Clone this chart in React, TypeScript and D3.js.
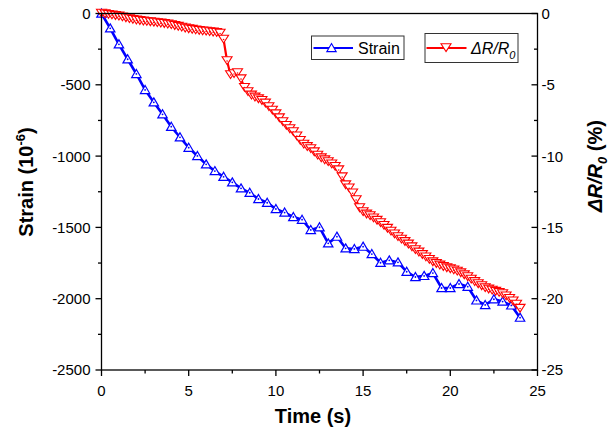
import React, { useRef, useEffect } from 'react';
import * as d3 from 'd3';

// Strain (10^-6), sampled every 0.5 s
const strainTime = d3.range(0, 24.01, 0.5);
const strainValues = [
  0, -104, -216, -321, -424, -536, -623, -707, -794, -868,
  -941, -999, -1058, -1105, -1145, -1184, -1226, -1257, -1301, -1327,
  -1371, -1396, -1427, -1446, -1518, -1499, -1612, -1565, -1647, -1651,
  -1635, -1687, -1748, -1731, -1745, -1811, -1848, -1840, -1820, -1925,
  -1925, -1897, -1916, -2012, -2044, -2004, -2020, -2047, -2133,
];

// dR/R0 (%), sampled every 0.2 s
const resTime = d3.range(0, 24.01, 0.2);
const resValues = [
  0, -0.04, -0.08, -0.12, -0.16, -0.2, -0.26, -0.32, -0.38, -0.43,
  -0.48, -0.51, -0.55, -0.57, -0.6, -0.63, -0.66, -0.69, -0.72, -0.76,
  -0.8, -0.86, -0.92, -0.98, -1.04, -1.09, -1.13, -1.17, -1.21, -1.24,
  -1.26, -1.29, -1.32, -1.35, -1.4, -1.82, -3.33, -4.31, -4.24, -4.17,
  -4.6, -5.2, -5.5, -5.74, -5.88, -6.0, -6.12, -6.3, -6.55, -6.8,
  -7.05, -7.33, -7.6, -7.87, -8.1, -8.31, -8.6, -8.92, -9.18, -9.35,
  -9.5, -9.72, -9.95, -10.14, -10.28, -10.41, -10.57, -10.74, -10.98, -11.47,
  -12.03, -12.25, -12.6, -13.08, -13.64, -13.92, -14.08, -14.2, -14.35, -14.52,
  -14.69, -14.88, -15.08, -15.28, -15.48, -15.67, -15.84, -16.01, -16.19, -16.38,
  -16.58, -16.75, -16.92, -17.09, -17.26, -17.43, -17.55, -17.66, -17.76, -17.85,
  -17.92, -18.0, -18.09, -18.2, -18.34, -18.48, -18.65, -18.82, -18.97, -19.11,
  -19.25, -19.34, -19.42, -19.5, -19.58, -19.67, -19.82, -20.0, -20.18, -20.4,
  -20.69,
];

const xTicks = [0, 5, 10, 15, 20, 25];
const leftTicks = [0, -500, -1000, -1500, -2000, -2500];
const rightTicks = [0, -5, -10, -15, -20, -25];

const FONT = '"Liberation Sans", Arial, sans-serif';
const BLUE = '#0000ff';
const RED = '#ff0000';

const upTri = 'M0,-4.5L4.7,3.6L-4.7,3.6Z';
const downTri = 'M0,3.6L5,-4.2L-5,-4.2Z';

const App = () => {
  const svgRef = useRef<SVGSVGElement>(null);

  useEffect(() => {
    const svg = d3.select(svgRef.current);
    svg.selectAll('*').remove();

    const left = 101.5, right = 537.5, top = 13.5, bottom = 370;

    const x = d3.scaleLinear().domain([0, 25]).range([left, right]);
    const yL = d3.scaleLinear().domain([-2500, 0]).range([bottom, top]);
    const yR = d3.scaleLinear().domain([-25, 0]).range([bottom, top]);

    const strain = strainTime.map((t, i) => ({ t, v: strainValues[i] }));
    const res = resTime.map((t, i) => ({ t, v: resValues[i] }));

    // strain series
    svg.append('path')
      .datum(strain)
      .attr('fill', 'none')
      .attr('stroke', BLUE)
      .attr('stroke-width', 2.6)
      .attr('d', d3.line<any>().x(d => x(d.t)).y(d => yL(d.v)));

    svg.append('g').selectAll('g')
      .data(strain).enter().append('g')
      .attr('transform', d => `translate(${x(d.t)},${yL(d.v)})`)
      .each(function () {
        const g = d3.select(this);
        g.append('path').attr('d', upTri).attr('fill', '#fff').attr('stroke', BLUE).attr('stroke-width', 1.2);
        g.append('circle').attr('r', 0.9).attr('fill', BLUE);
      });

    // resistance series
    svg.append('path')
      .datum(res)
      .attr('fill', 'none')
      .attr('stroke', RED)
      .attr('stroke-width', 2.2)
      .attr('d', d3.line<any>().x(d => x(d.t)).y(d => yR(d.v)));

    svg.append('g').selectAll('g')
      .data(res).enter().append('g')
      .attr('transform', d => `translate(${x(d.t)},${yR(d.v)})`)
      .each(function () {
        const g = d3.select(this);
        g.append('path').attr('d', downTri).attr('fill', '#fff').attr('stroke', RED).attr('stroke-width', 1.1);
        g.append('circle').attr('r', 0.8).attr('fill', RED);
      });

    // frame
    const ax = svg.append('g').attr('stroke', '#000').attr('stroke-width', 1.3).attr('fill', 'none');
    ax.append('rect').attr('x', left).attr('y', top).attr('width', right - left).attr('height', bottom - top);

    // bottom axis ticks
    d3.range(0, 25.01, 2.5).forEach(t => {
      const major = t % 5 === 0;
      ax.append('line').attr('x1', x(t)).attr('x2', x(t)).attr('y1', bottom).attr('y2', bottom + (major ? 6 : 3.5));
    });
    // left axis ticks
    d3.range(-2500, 0.01, 250).forEach(v => {
      const major = v % 500 === 0;
      ax.append('line').attr('y1', yL(v)).attr('y2', yL(v)).attr('x1', left).attr('x2', left - (major ? 6 : 3.5));
    });
    // right axis ticks (inward)
    d3.range(-25, 0.01, 2.5).forEach(v => {
      const major = v % 5 === 0;
      ax.append('line').attr('y1', yR(v)).attr('y2', yR(v)).attr('x1', right).attr('x2', right - (major ? 6 : 3.5));
    });

    const labels = svg.append('g').attr('font-family', FONT).attr('font-size', 15).attr('fill', '#000');
    xTicks.forEach(t => {
      labels.append('text').attr('x', x(t)).attr('y', 396).attr('text-anchor', 'middle').text(t);
    });
    leftTicks.forEach(v => {
      labels.append('text').attr('x', 90.5).attr('y', yL(v)).attr('dy', '0.36em').attr('text-anchor', 'end').text(v);
    });
    rightTicks.forEach(v => {
      labels.append('text').attr('x', 541.5).attr('y', yR(v)).attr('dy', '0.36em').attr('text-anchor', 'start').text(v);
    });

    // axis titles
    svg.append('text')
      .attr('x', 313).attr('y', 423)
      .attr('text-anchor', 'middle')
      .attr('font-family', FONT).attr('font-size', 20).attr('font-weight', 'bold')
      .text('Time (s)');

    const lt = svg.append('text')
      .attr('transform', 'translate(33,182) rotate(-90)')
      .attr('text-anchor', 'middle')
      .attr('font-family', FONT).attr('font-size', 20).attr('font-weight', 'bold');
    lt.append('tspan').text('Strain (10');
    lt.append('tspan').attr('font-size', 13).attr('dy', -8).text('-6');
    lt.append('tspan').attr('dy', 8).text(')');

    const rt = svg.append('text')
      .attr('transform', 'translate(602,166) rotate(-90)')
      .attr('text-anchor', 'middle')
      .attr('font-family', FONT).attr('font-size', 20).attr('font-weight', 'bold');
    rt.append('tspan').attr('font-style', 'italic').text('ΔR/R');
    rt.append('tspan').attr('font-style', 'italic').attr('font-size', 13).attr('dy', 5).text('0');
    rt.append('tspan').attr('dy', -5).text(' (%)');

    // legend
    const lg = svg.append('g').attr('font-family', FONT).attr('font-size', 16);
    lg.append('rect').attr('x', 311.5).attr('y', 36).attr('width', 92.5).attr('height', 23.5)
      .attr('fill', '#fff').attr('stroke', '#333').attr('stroke-width', 1);
    lg.append('line').attr('x1', 313.5).attr('x2', 353).attr('y1', 48).attr('y2', 48)
      .attr('stroke', BLUE).attr('stroke-width', 2);
    lg.append('path').attr('d', upTri).attr('transform', 'translate(331.5,48)')
      .attr('fill', '#fff').attr('stroke', BLUE).attr('stroke-width', 1.1);
    lg.append('text').attr('x', 358).attr('y', 54).text('Strain');

    lg.append('rect').attr('x', 425).attr('y', 33.5).attr('width', 93).attr('height', 29)
      .attr('fill', '#fff').attr('stroke', '#333').attr('stroke-width', 1);
    lg.append('line').attr('x1', 426.5).attr('x2', 466.5).attr('y1', 48).attr('y2', 48)
      .attr('stroke', RED).attr('stroke-width', 2);
    lg.append('path').attr('d', downTri).attr('transform', 'translate(446,48)')
      .attr('fill', '#fff').attr('stroke', RED).attr('stroke-width', 1.1);
    const lt2 = lg.append('text').attr('x', 471).attr('y', 54).attr('font-style', 'italic');
    lt2.append('tspan').text('ΔR/R');
    lt2.append('tspan').attr('font-size', 11).attr('dy', 5).text('0');
  }, []);

  return (
    <svg
      ref={svgRef}
      width={616}
      height={433}
      style={{ position: 'absolute', left: 0, top: 0, background: '#fff' }}
    />
  );
};

export default App;
